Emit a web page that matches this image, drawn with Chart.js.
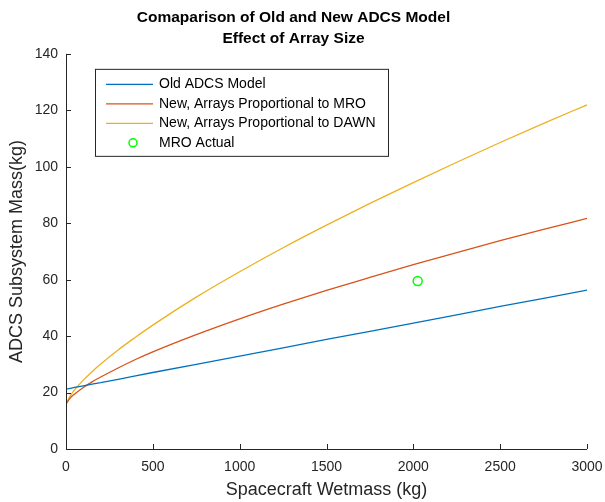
<!DOCTYPE html>
<html>
<head>
<meta charset="utf-8">
<script src="https://cdn.jsdelivr.net/npm/chart.js@4.4.0/dist/chart.umd.min.js"></script>
<style>
html,body{margin:0;padding:0;background:#fff;}
#wrap{width:605px;height:502px;position:relative;}
</style>
</head>
<body>
<div id="wrap"><canvas id="c" width="605" height="502"></canvas></div>
<script>
// ---- data ----
const wetmass = [0, 25, 50, 100, 150, 200, 300, 400, 500, 750, 1000, 1250, 1500, 1750, 2000, 2250, 2500, 2750, 3000];
const oldModel = [21.2, 21.5, 21.8, 22.4, 23.0, 23.5, 24.7, 25.9, 27.1, 30.0, 32.9, 35.8, 38.8, 41.7, 44.6, 47.5, 50.5, 53.4, 56.3];
const newMRO = [15.9, 18.1, 19.5, 21.8, 23.8, 25.5, 28.7, 31.7, 34.4, 40.5, 46.1, 51.3, 56.2, 60.8, 65.3, 69.6, 73.8, 77.8, 81.7];
const newDAWN = [15.9, 18.9, 21.0, 24.4, 27.4, 30.1, 35.1, 39.6, 43.9, 53.8, 62.8, 71.3, 79.3, 87.0, 94.4, 101.6, 108.6, 115.4, 121.9];
const mroActualX = [2025];
const mroActualY = [59.5];
const seriesLabels = ["Old ADCS Model", "New, Arrays Proportional to MRO", "New, Arrays Proportional to DAWN", "MRO Actual"];
const titleLines = ["Comaparison of Old and New ADCS Model", "Effect of Array Size"];
const xTitle = "Spacecraft Wetmass (kg)";
const yTitle = "ADCS Subsystem Mass(kg)";

const FONT = "'Liberation Sans', Arial, Helvetica, sans-serif";
const AX = '#262626';

function pts(xs, ys){ return xs.map((x,i)=>({x:x, y:ys[i]})); }

const innerTicks = {
  id: 'innerTicks',
  afterDraw(chart){
    const ctx = chart.ctx, a = chart.chartArea;
    const xs = chart.scales.x, ys = chart.scales.y;
    ctx.save();
    ctx.strokeStyle = AX; ctx.lineWidth = 1;
    ctx.beginPath();
    ctx.moveTo(a.left+0.5, a.top); ctx.lineTo(a.left+0.5, a.bottom+0.5); ctx.lineTo(a.right, a.bottom+0.5);
    xs.ticks.forEach(t=>{ const p=Math.round(xs.getPixelForValue(t.value))+0.5; ctx.moveTo(p, a.bottom); ctx.lineTo(p, a.bottom-5); });
    ys.ticks.forEach(t=>{ const p=Math.round(ys.getPixelForValue(t.value))+0.5; ctx.moveTo(a.left, p); ctx.lineTo(a.left+5, p); });
    ctx.stroke();
    // legend box
    const bx = a.left + 29, by = a.top + 15, bw = 293, bh = 87;
    ctx.fillStyle = '#fff';
    ctx.fillRect(bx, by, bw, bh);
    ctx.strokeStyle = '#262626';
    ctx.strokeRect(bx+0.5, by+0.5, bw, bh);
    const rows = [by+15.5, by+35, by+54.5, by+74];
    ctx.font = '14px ' + FONT;
    ctx.textBaseline = 'middle';
    chart.data.datasets.forEach((ds,i)=>{
      const y = rows[i];
      if (ds.showLine === false) {
        ctx.strokeStyle = ds.borderColor; ctx.lineWidth = 1.5;
        ctx.beginPath(); ctx.arc(bx+38, y, 4, 0, Math.PI*2); ctx.stroke();
      } else {
        ctx.strokeStyle = ds.borderColor; ctx.lineWidth = 1.3;
        ctx.beginPath(); ctx.moveTo(bx+11, y); ctx.lineTo(bx+58, y); ctx.stroke();
      }
      ctx.fillStyle = '#000';
      ctx.fillText(ds.label, bx+64, y);
    });
    ctx.restore();
  }
};

new Chart(document.getElementById('c'), {
  type: 'scatter',
  data: {
    datasets: [
      {label: seriesLabels[0], data: pts(wetmass, oldModel), showLine: true, borderColor: '#0072BD', borderWidth: 1.3, pointRadius: 0, tension: 0},
      {label: seriesLabels[1], data: pts(wetmass, newMRO), showLine: true, borderColor: '#D95319', borderWidth: 1.3, pointRadius: 0, tension: 0.4, cubicInterpolationMode: 'monotone'},
      {label: seriesLabels[2], data: pts(wetmass, newDAWN), showLine: true, borderColor: '#EDB120', borderWidth: 1.3, pointRadius: 0, tension: 0.4, cubicInterpolationMode: 'monotone'},
      {label: seriesLabels[3], data: pts(mroActualX, mroActualY), showLine: false, borderColor: '#00ff00', backgroundColor: 'rgba(0,0,0,0)', borderWidth: 1.5, pointRadius: 4.5, pointStyle: 'circle'}
    ]
  },
  options: {
    responsive: false,
    animation: false,
    devicePixelRatio: 1,
    layout: {padding: {left: 0, right: 18, top: 4, bottom: 0}},
    plugins: {
      legend: {display: false},
      tooltip: {enabled: false},
      title: {display: true, text: titleLines, color: '#000', font: {family: FONT, size: 15.5, weight: 'bold', lineHeight: 1.35}, padding: {top: 3, bottom: 5}}
    },
    scales: {
      x: {
        type: 'linear', min: 0, max: 3000,
        ticks: {stepSize: 500, color: AX, font: {family: FONT, size: 14}, padding: 10, maxRotation: 0, callback: v => String(v)},
        grid: {display: false, drawTicks: false},
        border: {display: false},
        title: {display: true, text: xTitle, color: AX, font: {family: FONT, size: 18}, padding: {top: 4, bottom: 1}},
        afterFit(s){ s.height = 53; s.paddingRight = 0; s.paddingLeft = 0; }
      },
      y: {
        min: 0, max: 140,
        ticks: {stepSize: 20, color: AX, font: {family: FONT, size: 14}, padding: 8, callback: v => String(v)},
        grid: {display: false, drawTicks: false},
        border: {display: false},
        title: {display: true, text: yTitle, color: AX, font: {family: FONT, size: 18}, padding: {top: 6, bottom: 4}},
        afterFit(s){ s.width = 66; }
      }
    }
  },
  plugins: [innerTicks]
});
</script>
</body>
</html>
